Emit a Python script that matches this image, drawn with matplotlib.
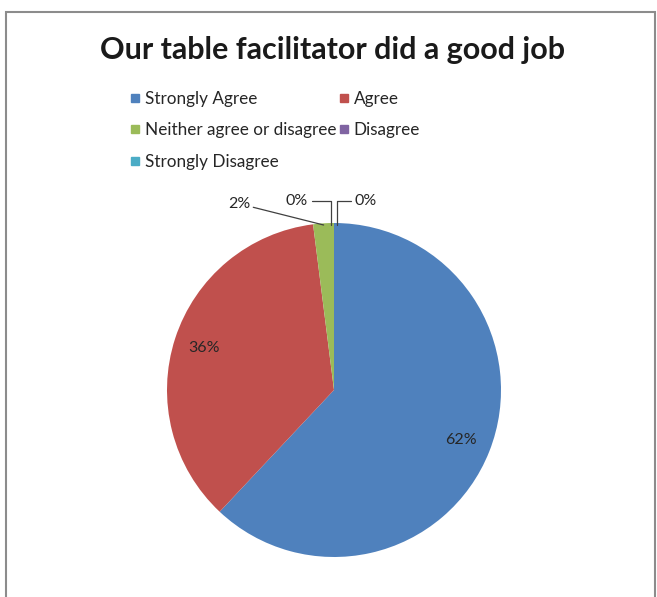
import matplotlib.pyplot as plt
from matplotlib.patches import Rectangle
from matplotlib.lines import Line2D
import numpy as np

plt.rcParams['font.family'] = ['Lato', 'DejaVu Sans']

# Data
categories = ['Strongly Agree', 'Agree', 'Neither agree or disagree', 'Disagree', 'Strongly Disagree']
shares = [62, 36, 2, 0, 0]
colors = ['#4F81BD', '#C0504D', '#9BBB59', '#8064A2', '#4BACC6']
title = 'Our table facilitator did a good job'

W, H = 657, 597
fig = plt.figure(figsize=(W / 100, H / 100), dpi=100)

# outer chart border
fig.patches.append(Rectangle((6 / W, -0.02), 649 / W, 1 - 12 / H + 0.02,
                             transform=fig.transFigure, fill=False,
                             edgecolor='#8c8c8c', linewidth=1.5))

# pie axes: center (334, 390) px, radius 167 px
R = 167
box = 400
ax = fig.add_axes([(334 - box / 2) / W, (H - 390 - box / 2) / H, box / W, box / H])
lim = box / 2 / R

def pct(p):
    return '%d%%' % round(p) if p >= 5 else ''

wedges, texts, autotexts = ax.pie(shares, colors=colors, startangle=90, counterclock=False,
                                  autopct=pct, pctdistance=0.82,
                                  textprops={'fontsize': 11.5, 'color': '#262626'},
                                  wedgeprops={'linewidth': 0})
ax.set_xlim(-lim, lim)
ax.set_ylim(-lim, lim)
ax.set_aspect('equal')
ax.axis('off')

# outside labels with leader lines for small slices
small_pos = {2: (-0.50, 1.115), 3: (-0.155, 1.13), 4: (0.125, 1.13)}
for i, (tx, ty) in small_pos.items():
    w = wedges[i]
    ang = np.deg2rad((w.theta1 + w.theta2) / 2)
    ex, ey = np.cos(ang) * 0.99, np.sin(ang) * 0.99
    if i == 2:
        ax.annotate('%d%%' % shares[i], xy=(ex, ey), xytext=(tx, ty),
                    ha='right', va='center', fontsize=11.5, color='#262626',
                    arrowprops=dict(arrowstyle='-', color='#404040', lw=0.9,
                                    shrinkA=0, shrinkB=0))
    else:
        ha = 'right' if i == 3 else 'left'
        ax.annotate('%d%%' % shares[i], xy=(ex + (-0.015 if i == 3 else 0.015), ey),
                    xytext=(tx, ty), ha=ha, va='center', fontsize=11.5, color='#262626',
                    arrowprops=dict(arrowstyle='-', color='#404040', lw=0.9,
                                    shrinkA=1, shrinkB=0,
                                    connectionstyle='angle,angleA=0,angleB=90,rad=0'))

fig.text(332 / W, 1 - 50 / H, title, ha='center', va='center',
         fontsize=22, fontweight='bold', color='#1a1a1a')

# legend, column-wise fill
order = [0, 2, 4, 1, 3]
handles = [Line2D([], [], marker='s', linestyle='none', markersize=6,
                  markerfacecolor=colors[i], markeredgecolor=colors[i]) for i in order]
labels = [categories[i] for i in order]
fig.legend(handles, labels, loc='upper left', bbox_to_anchor=(122 / W, 1 - 82 / H),
           ncol=2, frameon=False, fontsize=12.3, handlelength=0.55, handletextpad=0.3,
           columnspacing=0.15, labelspacing=0.92, borderpad=0, labelcolor='#262626')

fig.savefig('out.png', dpi=100, facecolor='white')
